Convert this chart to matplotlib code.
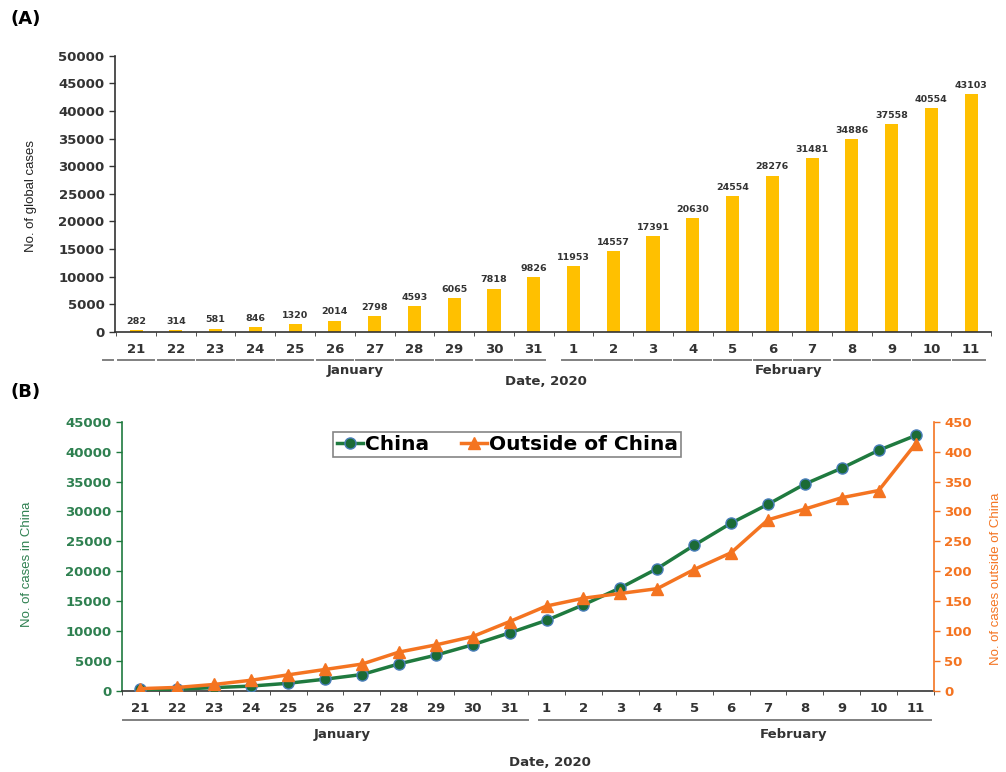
import matplotlib.pyplot as plt
import numpy as np
from matplotlib.transforms import blended_transform_factory

plt.rcParams['font.family'] = ['DejaVu Sans']

# dates (Jan 21 - Feb 11, 2020)
days = ['21', '22', '23', '24', '25', '26', '27', '28', '29', '30', '31',
        '1', '2', '3', '4', '5', '6', '7', '8', '9', '10', '11']
global_cases = [282, 314, 581, 846, 1320, 2014, 2798, 4593, 6065, 7818, 9826,
                11953, 14557, 17391, 20630, 24554, 28276, 31481, 34886, 37558, 40554, 43103]
china_cases = [278, 308, 570, 828, 1293, 1978, 2753, 4528, 5988, 7727, 9710,
               11811, 14402, 17228, 20459, 24351, 28045, 31195, 34582, 37235, 40219, 42690]
outside_cases = [4, 6, 11, 18, 27, 36, 45, 65, 77, 91, 116,
                 142, 155, 163, 171, 203, 231, 286, 304, 323, 335, 413]
months = ['January', 'February']

BAR = '#FFC000'
GREEN = '#1F7A3F'
GREEN_TXT = '#2E8050'
ORANGE = '#F47421'
GRAY = '#808080'
DARK = '#333333'
LABEL_FONT = ['Liberation Sans', 'DejaVu Sans']
TICK_SIZE = 9.5

x = np.arange(len(days))

fig = plt.figure(figsize=(10.06, 7.72), dpi=100)

# ---------------- (A) global cases ----------------
axA = fig.add_axes([0.1143, 0.5703, 0.8708, 0.3575])
axA.bar(x, global_cases, width=0.33, color=BAR, zorder=2)
for xi, v in zip(x, global_cases):
    axA.annotate(str(v), (xi, v), xytext=(0, 3), textcoords='offset points',
                 ha='center', va='bottom', fontsize=6.8, fontweight='bold', color=DARK)

axA.set_xlim(-0.53, 21.45)
axA.set_ylim(0, 50000)
axA.set_yticks(np.arange(0, 50001, 5000))
axA.set_xticks(x)
axA.set_xticklabels(days)
axA.set_xticks(np.arange(-0.5, 21.6, 1), minor=True)
axA.tick_params(axis='x', which='major', length=0, pad=8)
axA.tick_params(axis='x', which='minor', length=3, direction='out', color=DARK)
axA.tick_params(axis='y', length=4, direction='out', width=1, color=DARK)
for lab in axA.get_xticklabels() + axA.get_yticklabels():
    lab.set_fontweight('bold')
    lab.set_fontsize(TICK_SIZE)
    lab.set_color(DARK)
for s in ['top', 'right']:
    axA.spines[s].set_visible(False)
for s in ['left', 'bottom']:
    axA.spines[s].set_linewidth(1.2)
    axA.spines[s].set_color(DARK)
axA.set_ylabel('No. of global cases', fontsize=9.5, family=LABEL_FONT, color='#222222')
axA.yaxis.set_label_coords(-0.089, 0.49)

# month underline segments (A)
trA = blended_transform_factory(axA.transData, axA.transAxes)
segs = [(-0.83, -0.58)]
for k in range(11):
    segs.append((k - 0.46, min(k + 0.46, 10.28)))
for k in range(11, 22):
    segs.append((max(k - 0.46, 10.7), min(k + 0.46, 21.35)))
for a, b in segs:
    axA.plot([a, b], [-0.103, -0.103], color=GRAY, lw=1.4, transform=trA, clip_on=False)
axA.text(5.5, -0.139, months[0], transform=trA, ha='center', va='center',
         fontsize=9.5, fontweight='bold', color=DARK)
axA.text(16.4, -0.139, months[1], transform=trA, ha='center', va='center',
         fontsize=9.5, fontweight='bold', color=DARK)
axA.text(10.3, -0.18, 'Date, 2020', transform=trA, ha='center', va='center',
         fontsize=9.5, fontweight='bold', color=DARK)

fig.text(0.01, 0.976, '(A)', fontsize=13, fontweight='bold', ha='left', va='center')

# ---------------- (B) China vs outside ----------------
axB = fig.add_axes([0.1213, 0.1049, 0.8072, 0.3489])
axB2 = axB.twinx()
l1, = axB.plot(x, china_cases, color=GREEN, lw=2.5, marker='o', markersize=8,
               markerfacecolor='#1B6B36', markeredgecolor='#4A7EBB', markeredgewidth=1,
               label='China', zorder=3)
l2, = axB2.plot(x, outside_cases, color=ORANGE, lw=2.5, marker='^', markersize=8,
                markerfacecolor=ORANGE, markeredgecolor=ORANGE, label='Outside of China')

axB.set_xlim(-0.5, 21.47)
axB.set_ylim(0, 45000)
axB2.set_ylim(0, 450)
axB.set_yticks(np.arange(0, 45001, 5000))
axB2.set_yticks(np.arange(0, 451, 50))
axB.set_xticks(x)
axB.set_xticklabels(days)
axB.set_xticks(np.arange(-0.5, 21.6, 1), minor=True)
axB.tick_params(axis='x', which='major', length=0, pad=8)
axB.tick_params(axis='x', which='minor', length=3, direction='out', color=DARK)
axB.tick_params(axis='y', length=4, direction='out', width=1, color=GREEN)
axB2.tick_params(axis='y', length=4, direction='out', width=1, color=ORANGE)
for lab in axB.get_xticklabels():
    lab.set_fontweight('bold')
    lab.set_fontsize(TICK_SIZE)
    lab.set_color(DARK)
for lab in axB.get_yticklabels():
    lab.set_fontweight('bold')
    lab.set_fontsize(TICK_SIZE)
    lab.set_color(GREEN_TXT)
for lab in axB2.get_yticklabels():
    lab.set_fontweight('bold')
    lab.set_fontsize(TICK_SIZE)
    lab.set_color(ORANGE)
axB.spines['top'].set_visible(False)
axB2.spines['top'].set_visible(False)
axB.spines['right'].set_visible(False)
axB2.spines['left'].set_visible(False)
axB2.spines['bottom'].set_visible(False)
axB.spines['left'].set_color(GREEN)
axB.spines['left'].set_linewidth(1.2)
axB2.spines['right'].set_color(ORANGE)
axB2.spines['right'].set_linewidth(1.2)
axB.spines['bottom'].set_color(DARK)
axB.spines['bottom'].set_linewidth(1.2)

axB.set_ylabel('No. of cases in China', fontsize=9.5, family=LABEL_FONT, color=GREEN_TXT)
axB.yaxis.set_label_coords(-0.11, 0.47)
axB2.set_ylabel('No. of cases outside of China', fontsize=9.5, family=LABEL_FONT,
                color=ORANGE, rotation=90)
axB2.yaxis.set_label_coords(1.069, 0.416)

leg = axB.legend(handles=[l1, l2], loc='upper left', bbox_to_anchor=(0.248, 0.998),
                 ncol=2, fancybox=False, edgecolor='#666666', handlelength=1.3,
                 handletextpad=0.1, columnspacing=1.6, borderpad=0.15,
                 prop={'size': 14.5, 'weight': 'bold'})
leg.get_frame().set_linewidth(1.2)

trB = blended_transform_factory(axB.transData, axB.transAxes)
axB.plot([-0.48, 10.5], [-0.108, -0.108], color=GRAY, lw=1.4, transform=trB, clip_on=False)
axB.plot([10.8, 21.42], [-0.108, -0.108], color=GRAY, lw=1.4, transform=trB, clip_on=False)
axB.text(5.46, -0.16, months[0], transform=trB, ha='center', va='center',
         fontsize=9.5, fontweight='bold', color=DARK)
axB.text(17.7, -0.16, months[1], transform=trB, ha='center', va='center',
         fontsize=9.5, fontweight='bold', color=DARK)
axB.text(11.1, -0.267, 'Date, 2020', transform=trB, ha='center', va='center',
         fontsize=9.5, fontweight='bold', color=DARK)

fig.text(0.01, 0.492, '(B)', fontsize=13, fontweight='bold', ha='left', va='center')

fig.savefig('out.png', dpi=100)
